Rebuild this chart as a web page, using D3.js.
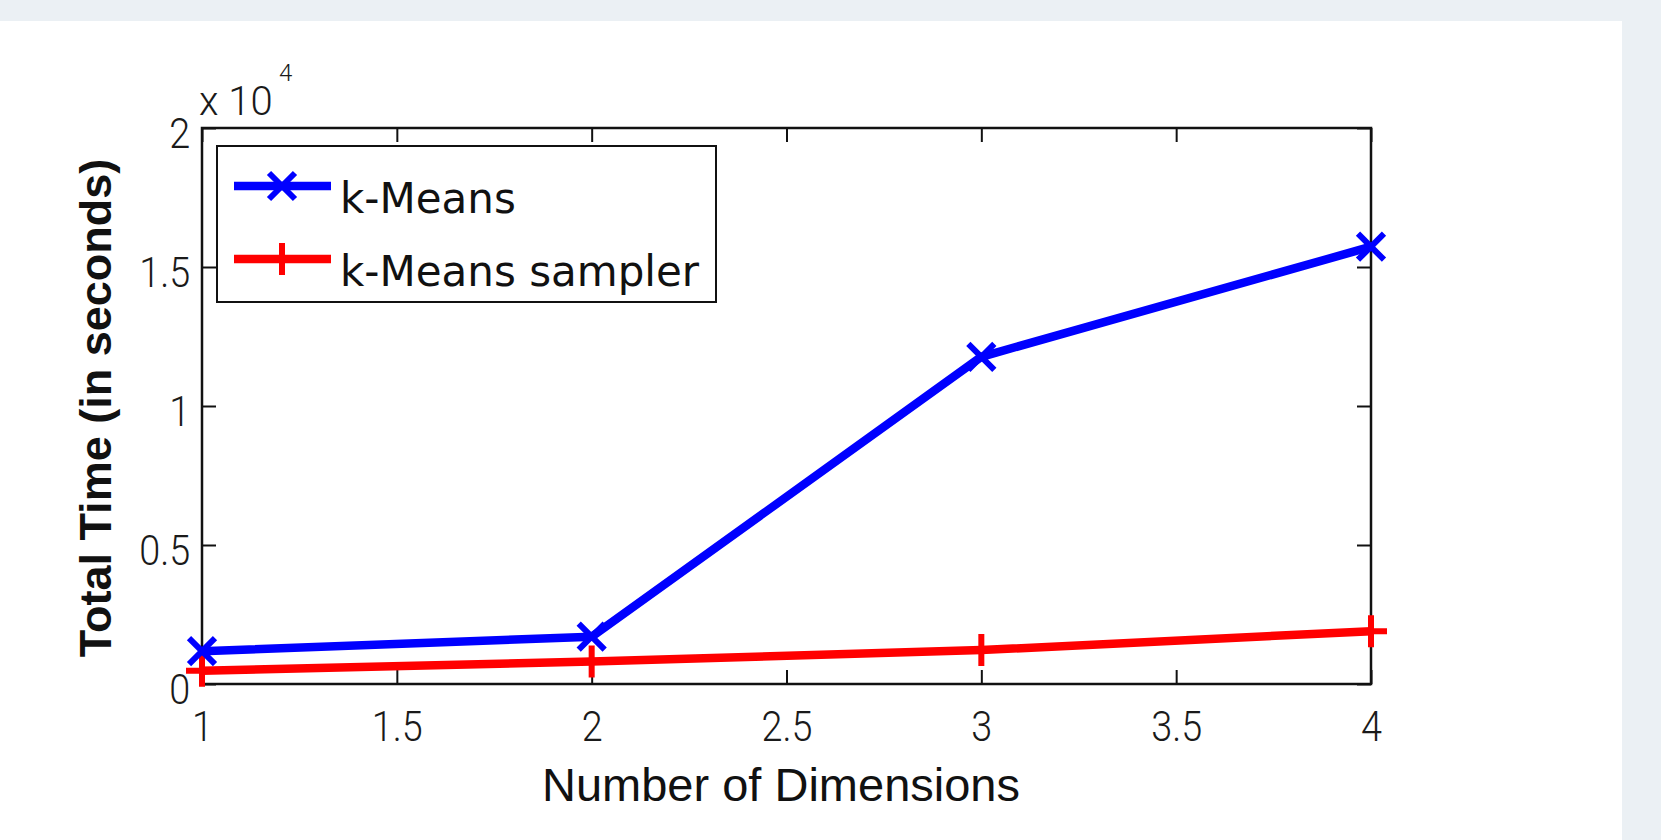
<!DOCTYPE html>
<html>
<head>
<meta charset="utf-8">
<script src="https://cdn.jsdelivr.net/npm/d3@7"></script>
<style>
    body { margin: 0; background: #ebf0f4; }
    svg { display: block; }
    .tick-label { font-family: Roboto, "Liberation Sans", sans-serif; font-weight: 300; font-size: 42px; fill: #1a1a1a; }
    .axis-label { font-family: "Liberation Sans", Arial, sans-serif; fill: #111; }
    .legend-text { font-family: "DejaVu Sans", sans-serif; font-size: 42px; fill: #111; }
</style>
</head>
<body>
<svg id="chart" width="1661" height="840"></svg>
<script>
// values
const dims = [1, 2, 3, 4];
const kMeans = [1180, 1700, 11770, 15730];
const kMeansSampler = [480, 810, 1220, 1900];
const seriesNames = ['k-Means', 'k-Means sampler'];
const seriesColors = ['#0000ff', '#ff0000'];
const xTicks = [1, 1.5, 2, 2.5, 3, 3.5, 4];
const yTicks = [0, 5000, 10000, 15000, 20000];
const yTickLabels = ['0', '0.5', '1', '1.5', '2'];

const svg = d3.select('#chart');
const W = 1661, H = 840;

const DIM = { left: 202, right: 1371, top: 128, bottom: 684 };

svg.append('rect').attr('width', W).attr('height', H).attr('fill', '#ebf0f4');
svg.append('rect').attr('x', 0).attr('y', 21).attr('width', 1622).attr('height', H - 21).attr('fill', '#fff');

const x = d3.scaleLinear().domain([1, 4]).range([DIM.left, DIM.right]);
const y = d3.scaleLinear().domain([0, 20000]).range([DIM.bottom, DIM.top]);

// axes, ticks inward like matlab
const xAxis = d3.axisBottom(x).tickValues(xTicks).tickSizeInner(-14).tickSizeOuter(0)
    .tickPadding(27).tickFormat(d3.format(''));
const yAxis = d3.axisLeft(y).tickValues(yTicks).tickSizeInner(-14).tickSizeOuter(0)
    .tickPadding(13).tickFormat((d, i) => yTickLabels[i]);

const gx = svg.append('g').attr('transform', `translate(0,${DIM.bottom})`).call(xAxis);
const gy = svg.append('g').attr('transform', `translate(${DIM.left},0)`).call(yAxis);
svg.append('g').attr('transform', `translate(0,${DIM.top})`)
    .call(d3.axisTop(x).tickValues(xTicks).tickSizeInner(-14).tickSizeOuter(0).tickFormat(''));
svg.append('g').attr('transform', `translate(${DIM.right},0)`)
    .call(d3.axisRight(y).tickValues(yTicks).tickSizeInner(-14).tickSizeOuter(0).tickFormat(''));

svg.selectAll('.domain').remove();
svg.selectAll('.tick line').attr('stroke', '#111').attr('stroke-width', 2);
gx.selectAll('text').attr('class', 'tick-label').attr('transform', 'scale(0.9,1)');
gy.selectAll('text').attr('class', 'tick-label').attr('dy', '0.47em').attr('transform', 'scale(0.9,1)');

svg.append('rect')
    .attr('x', DIM.left).attr('y', DIM.top)
    .attr('width', DIM.right - DIM.left).attr('height', DIM.bottom - DIM.top)
    .attr('fill', 'none').attr('stroke', '#111').attr('stroke-width', 2.5);

// exponent
svg.append('text').attr('class', 'tick-label').attr('x', 199).attr('y', 115).style('font-size', '40px').text('x 10');
svg.append('text').attr('class', 'tick-label').attr('x', 279).attr('y', 81).style('font-size', '24px').text('4');

// series
const series = [kMeans, kMeansSampler].map((vals, i) => ({
    name: seriesNames[i],
    color: seriesColors[i],
    marker: i === 0 ? 'x' : 'plus',
    pts: dims.map((d, j) => ({ x: d, y: vals[j] }))
}));

const markerPath = { x: 'M-13,-13L13,13M-13,13L13,-13', plus: 'M-16,0H16M0,-16V16' };

const line = d3.line().x(d => x(d.x)).y(d => y(d.y));

series.slice().reverse().forEach(s => {
    svg.append('path')
        .attr('d', line(s.pts))
        .attr('fill', 'none')
        .attr('stroke', s.color)
        .attr('stroke-width', 8.5)
        .attr('stroke-linejoin', 'round');
    svg.selectAll(null)
        .data(s.pts)
        .join('path')
        .attr('transform', d => `translate(${x(d.x)},${y(d.y)})`)
        .attr('d', markerPath[s.marker])
        .attr('stroke', s.color)
        .attr('stroke-width', 6)
        .attr('fill', 'none');
});

// legend
const legend = svg.append('g');
legend.append('rect')
    .attr('x', 217).attr('y', 146).attr('width', 499).attr('height', 156)
    .attr('fill', '#fff').attr('stroke', '#111').attr('stroke-width', 2);

const legendY = [186, 259];
series.forEach((s, i) => {
    const g = legend.append('g').attr('transform', `translate(0,${legendY[i]})`);
    g.append('line').attr('x1', 234).attr('x2', 331).attr('y1', 0).attr('y2', 0)
        .attr('stroke', s.color).attr('stroke-width', 8.5);
    g.append('path').attr('transform', 'translate(282,0)').attr('d', markerPath[s.marker])
        .attr('stroke', s.color).attr('stroke-width', 6).attr('fill', 'none');
    g.append('text').attr('class', 'legend-text').attr('x', 340).attr('y', 27).text(s.name);
});

// axis titles
svg.append('text').attr('class', 'axis-label')
    .attr('x', 781).attr('y', 801)
    .attr('text-anchor', 'middle')
    .style('font-size', '47px')
    .text('Number of Dimensions');

svg.append('text').attr('class', 'axis-label')
    .attr('transform', `translate(111,${(DIM.top + DIM.bottom) / 2 + 2}) rotate(-90)`)
    .attr('text-anchor', 'middle')
    .style('font-size', '45px')
    .style('font-weight', 'bold')
    .text('Total Time (in seconds)');
</script>
</body>
</html>
